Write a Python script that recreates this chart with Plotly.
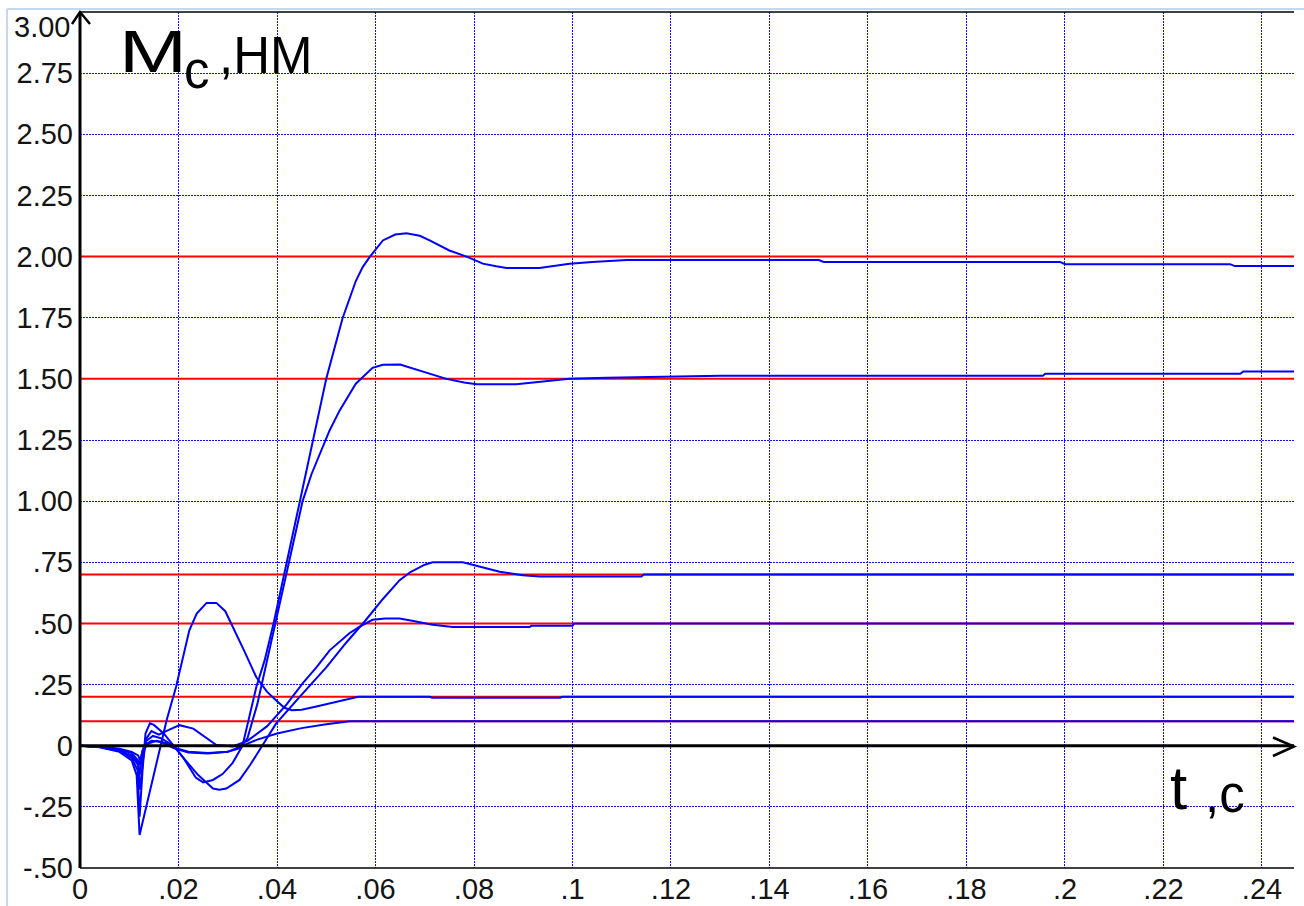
import plotly.graph_objects as go

# Load-torque setpoints, N·m
setpoints = [2.0, 1.5, 0.7, 0.5, 0.2, 0.1]

# Transient responses of the load torque: time (s) and torque (N·m)
t_20 = [0, 0.004, 0.008, 0.0105, 0.0118, 0.0121, 0.0126, 0.0135, 0.0148, 0.0165, 0.019, 0.021, 0.0235,
        0.025, 0.027, 0.029, 0.031, 0.033, 0.0358, 0.0375, 0.0393, 0.0415, 0.0446, 0.0472, 0.0500, 0.0533,
        0.0560, 0.0574, 0.0588, 0.0615, 0.0640, 0.0663, 0.0690, 0.0710, 0.0750, 0.0785, 0.0818, 0.0845,
        0.0866, 0.0933, 0.0960, 0.0994, 0.1040, 0.1110, 0.1500, 0.1510, 0.1990, 0.2000, 0.2335, 0.2345, 0.2465]
m_20 = [0, -0.005, -0.02, -0.04, -0.08, -0.12, -0.04, 0.02, 0.04, 0.03, 0.0, -0.05, -0.13,
        -0.15, -0.14, -0.115, -0.07, 0.0, 0.24, 0.35, 0.5, 0.705, 1.0, 1.25, 1.5, 1.747,
        1.90, 1.957, 1.998, 2.066, 2.09, 2.095, 2.085, 2.066, 2.025, 2.0, 1.971, 1.96,
        1.953, 1.953, 1.96, 1.971, 1.978, 1.986, 1.986, 1.978, 1.978, 1.969, 1.969, 1.961, 1.961]

t_15 = [0, 0.004, 0.008, 0.0105, 0.0118, 0.0121, 0.0127, 0.014, 0.0155, 0.0175, 0.0195, 0.022, 0.026,
        0.030, 0.0325, 0.0340, 0.0360, 0.0380, 0.0397, 0.0420, 0.0452, 0.0470, 0.0490, 0.0507, 0.0527,
        0.0560, 0.0594, 0.0615, 0.0650, 0.0690, 0.0744, 0.0780, 0.0805, 0.0886, 0.0920, 0.0994, 0.1070,
        0.1300, 0.1955, 0.1960, 0.2356, 0.2362, 0.2465]
m_15 = [0, -0.004, -0.015, -0.03, -0.06, -0.08, -0.02, 0.01, 0.02, 0.01, -0.01, -0.025, -0.03,
        -0.025, -0.01, 0.03, 0.17, 0.35, 0.5, 0.7, 1.0, 1.11, 1.21, 1.29, 1.37,
        1.48, 1.545, 1.558, 1.559, 1.535, 1.5, 1.485, 1.478, 1.478, 1.485, 1.5, 1.505,
        1.513, 1.513, 1.521, 1.521, 1.53, 1.53]

t_07 = [0, 0.004, 0.008, 0.0105, 0.0117, 0.0121, 0.0127, 0.0133, 0.0142, 0.0150, 0.0170, 0.0190, 0.0210,
        0.0240, 0.0270, 0.0283, 0.0297, 0.0324, 0.0345, 0.0370, 0.0398, 0.0446, 0.0500, 0.0540, 0.0580,
        0.0615, 0.0649, 0.0671, 0.0700, 0.0716, 0.0777, 0.0797, 0.0852, 0.0899, 0.0933, 0.1140, 0.1145, 0.2465]
m_07 = [0, -0.005, -0.022, -0.05, -0.1, -0.29, -0.1, 0.05, 0.092, 0.085, 0.05, 0.0, -0.05,
        -0.12, -0.175, -0.18, -0.175, -0.14, -0.08, 0.0, 0.09, 0.2, 0.32, 0.42, 0.513,
        0.6, 0.677, 0.71, 0.74, 0.75, 0.75, 0.74, 0.711, 0.697, 0.692, 0.692, 0.7, 0.7]

t_05 = [0, 0.004, 0.008, 0.0105, 0.0118, 0.0122, 0.0128, 0.0135, 0.0145, 0.0160, 0.0175, 0.0202, 0.0230,
        0.0255, 0.0277, 0.0310, 0.0340, 0.0380, 0.0420, 0.0452, 0.0480, 0.0507, 0.0547, 0.0567, 0.0594,
        0.0620, 0.0649, 0.0677, 0.0716, 0.0757, 0.0913, 0.0916, 0.1000, 0.1003, 0.2465]
m_05 = [0, -0.004, -0.018, -0.04, -0.07, -0.18, -0.06, 0.03, 0.06, 0.045, 0.06, 0.084, 0.07,
        0.035, 0.003, -0.003, 0.02, 0.08, 0.17, 0.255, 0.32, 0.39, 0.46, 0.486, 0.515,
        0.52, 0.52, 0.51, 0.495, 0.485, 0.485, 0.49, 0.49, 0.5, 0.5]

t_02 = [0, 0.004, 0.008, 0.0105, 0.0115, 0.0121, 0.0176, 0.0195, 0.0222, 0.0237, 0.0257, 0.0277, 0.0295,
        0.0307, 0.0333, 0.0358, 0.0380, 0.0398, 0.0415, 0.0430, 0.0450, 0.0480, 0.0510, 0.0540, 0.0565,
        0.0710, 0.0715, 0.0975, 0.0980, 0.2465]
m_02 = [0, -0.006, -0.025, -0.06, -0.12, -0.365, 0.105, 0.24, 0.472, 0.54, 0.584, 0.584, 0.55,
        0.5, 0.39, 0.28, 0.22, 0.186, 0.155, 0.145, 0.147, 0.16, 0.175, 0.19, 0.2,
        0.2, 0.196, 0.196, 0.2, 0.2]

t_01 = [0, 0.004, 0.008, 0.0105, 0.0118, 0.0122, 0.0130, 0.0145, 0.0165, 0.0190, 0.0220, 0.0260, 0.0300,
        0.0330, 0.0360, 0.0400, 0.0450, 0.0500, 0.0548, 0.2465]
m_01 = [0, -0.003, -0.012, -0.025, -0.04, -0.06, 0.0, 0.02, 0.015, -0.01, -0.028, -0.032, -0.025,
        0.0, 0.025, 0.05, 0.072, 0.088, 0.1, 0.1]

# Axis ticks
x_ticks = [0, 0.02, 0.04, 0.06, 0.08, 0.10, 0.12, 0.14, 0.16, 0.18, 0.20, 0.22, 0.24]
x_labels = ["0", ".02", ".04", ".06", ".08", ".1", ".12", ".14", ".16", ".18", ".2", ".22", ".24"]
y_ticks = [-0.5, -0.25, 0, 0.25, 0.5, 0.75, 1.0, 1.25, 1.5, 1.75, 2.0, 2.25, 2.5, 2.75]
y_labels = ["-.50", "-.25", "0", ".25", ".50", ".75", "1.00", "1.25", "1.50", "1.75", "2.00", "2.25", "2.50", "2.75"]
y_top_label = "3.00"

X_MAX = 0.2465
Y_MIN, Y_MAX = -0.5, 3.0

W, H = 1304, 906
ML, MR, MT, MB = 80, 10, 12, 38
PW, PH = W - ML - MR, H - MT - MB


def fx(px):
    """page pixel x -> paper fraction"""
    return (px - ML) / PW


def fy(py):
    """page pixel y -> paper fraction"""
    return (H - MB - py) / PH


fig = go.Figure()

for s in setpoints:
    fig.add_trace(go.Scatter(x=[0, X_MAX], y=[s, s], mode="lines",
                             line=dict(color="#ff0000", width=2), hoverinfo="skip"))

for tt, mm in [(t_20, m_20), (t_15, m_15), (t_07, m_07), (t_05, m_05), (t_02, m_02), (t_01, m_01)]:
    fig.add_trace(go.Scatter(x=tt, y=mm, mode="lines",
                             line=dict(color="#0000ff", width=2), hoverinfo="skip"))

font_tick = dict(family="Arial, 'Liberation Sans', sans-serif", size=29, color="#141414")
font_lbl = "Arial, 'Liberation Sans', sans-serif"
grid = dict(showgrid=True, gridcolor="#1010ff", gridwidth=1.3, griddash="1.5px,1.5px",
            zeroline=False, showline=False, automargin=False, ticks="")

fig.update_layout(
    width=W, height=H,
    margin=dict(l=ML, r=MR, t=MT, b=MB, autoexpand=False),
    paper_bgcolor="white", plot_bgcolor="white",
    showlegend=False,
    xaxis=dict(range=[0, X_MAX], tickvals=x_ticks, ticktext=x_labels, tickfont=font_tick,
               ticklabelstandoff=1, **grid),
    yaxis=dict(range=[Y_MIN, Y_MAX], tickvals=y_ticks, ticktext=y_labels, tickfont=font_tick,
               ticklabelstandoff=6, **grid),
)

shapes = []
# outer frame of the panel
shapes.append(dict(type="line", xref="paper", yref="paper", x0=fx(7), x1=fx(7), y0=fy(9), y1=fy(906),
                   line=dict(color="#c6d9ec", width=2)))
shapes.append(dict(type="line", xref="paper", yref="paper", x0=fx(7), x1=fx(1304), y0=fy(9), y1=fy(9),
                   line=dict(color="#c6d9ec", width=2)))
# plot borders
shapes.append(dict(type="line", xref="paper", yref="paper", x0=0, x1=1, y0=1, y1=1,
                   line=dict(color="black", width=1.5), layer="above"))
shapes.append(dict(type="line", xref="paper", yref="paper", x0=0, x1=1, y0=0, y1=0,
                   line=dict(color="black", width=1.5), layer="above"))
# torque axis with arrow
shapes.append(dict(type="line", xref="paper", yref="paper", x0=0, x1=0, y0=0, y1=1,
                   line=dict(color="black", width=3), layer="above"))
shapes.append(dict(type="path", xref="paper", yref="paper",
                   path=f"M {fx(72)},{fy(24)} L {fx(80)},{fy(12)} L {fx(90)},{fy(24)}",
                   line=dict(color="black", width=2.5), layer="above"))
# time axis with arrow
shapes.append(dict(type="line", xref="paper", yref="y", x0=0, x1=1, y0=0, y1=0,
                   line=dict(color="black", width=3), layer="above"))
shapes.append(dict(type="path", xref="paper", yref="paper",
                   path=f"M {fx(1273)},{fy(737.5)} L {fx(1294)},{fy(746.5)} L {fx(1273)},{fy(756)}",
                   line=dict(color="black", width=2.5), layer="above"))
fig.update_layout(shapes=shapes)

ann = []
ann.append(dict(text=y_top_label, xref="paper", yref="paper", x=fx(72), y=fy(27), xanchor="right",
                yanchor="middle", showarrow=False, font=font_tick))
ann.append(dict(text="М", xref="paper", yref="paper", x=fx(117), y=fy(87), xanchor="left",
                yanchor="bottom", showarrow=False, font=dict(family=font_lbl, size=60, color="black")))
ann.append(dict(text="с", xref="paper", yref="paper", x=fx(182), y=fy(101), xanchor="left",
                yanchor="bottom", showarrow=False, font=dict(family=font_lbl, size=51, color="black")))
ann.append(dict(text=",НМ", xref="paper", yref="paper", x=fx(217), y=fy(86), xanchor="left",
                yanchor="bottom", showarrow=False, font=dict(family=font_lbl, size=51, color="black")))
ann.append(dict(text="t", xref="paper", yref="paper", x=fx(1168), y=fy(824), xanchor="left",
                yanchor="bottom", showarrow=False, font=dict(family=font_lbl, size=62, color="black")))
ann.append(dict(text=",с", xref="paper", yref="paper", x=fx(1203), y=fy(825), xanchor="left",
                yanchor="bottom", showarrow=False, font=dict(family=font_lbl, size=51, color="black")))
fig.update_layout(annotations=ann)

# widen the large "М" glyph of the torque label
widen_m = """
function widenM(){
  document.querySelectorAll('.annotation-text').forEach(function(el){
    if (el.textContent === 'М') {
      el.style.transformBox = 'fill-box';
      el.style.transformOrigin = 'left center';
      el.style.transform = 'scaleX(1.36)';
    }
  });
}
widenM();
setTimeout(widenM, 0);
"""

fig.write_html("out.html", post_script=widen_m)
